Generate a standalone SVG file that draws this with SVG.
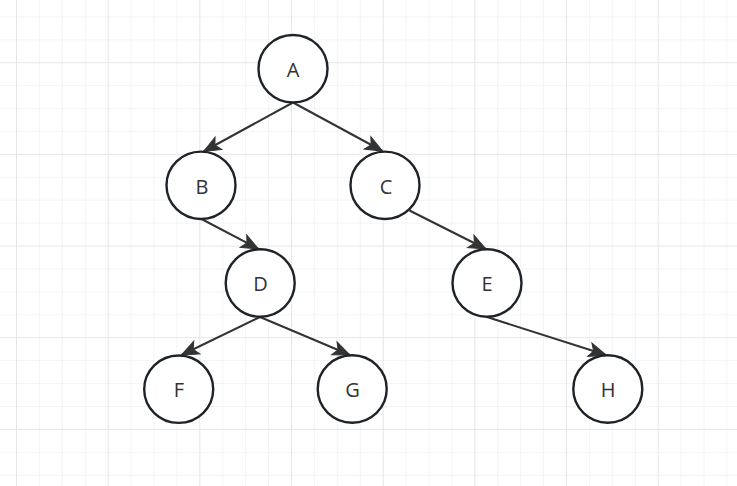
<svg xmlns="http://www.w3.org/2000/svg" width="737" height="486" viewBox="0 0 737 486">
<style>
.minor{stroke:#f4f4f4;stroke-width:1;fill:none}
.major{stroke:#e6e6e6;stroke-width:1;fill:none}
.node ellipse{fill:#ffffff;stroke:#1e2329;stroke-width:2.4}
.node text{font-family:"Open Sans","Noto Sans",sans-serif;font-size:20px;fill:#333333;text-anchor:middle}
.edge{stroke:#333333;stroke-width:2;fill:none;marker-end:url(#arrow)}
</style>
<defs>
<marker id="arrow" markerUnits="userSpaceOnUse" markerWidth="22" markerHeight="18" viewBox="-19 -9 22 18" refX="0" refY="0" orient="auto">
<path d="M0,0 L-17,-7 L-13,0 L-17,7 Z" fill="#333333" stroke="#333333" stroke-width="1" stroke-linejoin="miter"/>
</marker>
</defs>
<rect width="737" height="486" fill="#ffffff"/>
<g id="grid">
<path class="minor" d="M39.42,0V486M62.33,0V486M85.25,0V486M131.08,0V486M154,0V486M176.92,0V486M222.75,0V486M245.67,0V486M268.58,0V486M314.42,0V486M337.33,0V486M360.25,0V486M406.08,0V486M429,0V486M451.92,0V486M497.75,0V486M520.67,0V486M543.58,0V486M589.42,0V486M612.33,0V486M635.25,0V486M681.08,0V486M704,0V486M726.92,0V486
M0,16.87H737M0,39.78H737M0,85.62H737M0,108.53H737M0,131.45H737M0,177.28H737M0,200.2H737M0,223.12H737M0,268.95H737M0,291.87H737M0,314.78H737M0,360.62H737M0,383.53H737M0,406.45H737M0,452.28H737M0,475.2H737"/>
<path class="major" d="M16.5,0V486M108.17,0V486M199.83,0V486M291.5,0V486M383.17,0V486M474.83,0V486M566.5,0V486M658.17,0V486
M0,62.7H737M0,154.37H737M0,246.03H737M0,337.7H737M0,429.37H737"/>
</g>
<g id="connectors">
<line class="edge" x1="293" y1="102.5" x2="203.5" y2="151.5"/>
<line class="edge" x1="293" y1="102.5" x2="382.5" y2="151"/>
<line class="edge" x1="201.5" y1="219" x2="258.5" y2="249"/>
<line class="edge" x1="409.5" y1="210.5" x2="486" y2="249"/>
<line class="edge" x1="260" y1="317" x2="181.5" y2="355"/>
<line class="edge" x1="260" y1="317" x2="350" y2="355"/>
<line class="edge" x1="487" y1="317" x2="606" y2="355"/>
</g>
<g id="node-A" class="node"><ellipse cx="293" cy="68.7" rx="34.5" ry="33.7"/><text x="293" y="76.5">A</text></g>
<g id="node-B" class="node"><ellipse cx="201" cy="185.3" rx="34.5" ry="33.7"/><text x="202" y="193.5">B</text></g>
<g id="node-C" class="node"><ellipse cx="385" cy="185.3" rx="34.5" ry="33.7"/><text x="386" y="193.5">C</text></g>
<g id="node-D" class="node"><ellipse cx="260.2" cy="283" rx="34.5" ry="33.7"/><text x="260.5" y="291.2">D</text></g>
<g id="node-E" class="node"><ellipse cx="487" cy="283" rx="34.5" ry="33.7"/><text x="487" y="291.2">E</text></g>
<g id="node-F" class="node"><ellipse cx="178.7" cy="389.2" rx="34.5" ry="33.7"/><text x="179" y="397.4">F</text></g>
<g id="node-G" class="node"><ellipse cx="352.2" cy="389" rx="34.5" ry="33.7"/><text x="352.5" y="397.2">G</text></g>
<g id="node-H" class="node"><ellipse cx="607.8" cy="389" rx="34.5" ry="33.7"/><text x="608" y="397.2">H</text></g>
</svg>
